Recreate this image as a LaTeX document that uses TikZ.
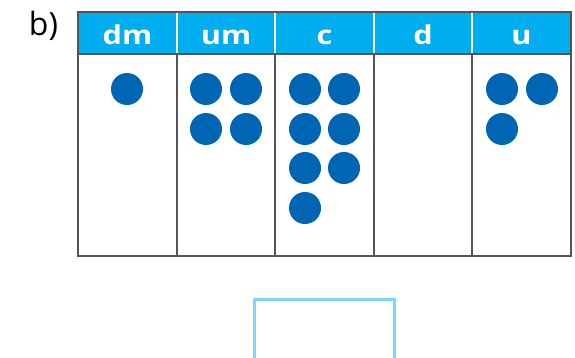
\documentclass[tikz,border=0pt]{standalone}
\usepackage{fontspec}
\setmainfont{Open Sans}
\newfontfamily\headfont[FakeStretch=1.18]{Open Sans}
\usetikzlibrary{positioning}
\definecolor{headcyan}{HTML}{00AEEF}
\definecolor{dotblue}{HTML}{0066B3}
\definecolor{gridgray}{HTML}{555555}
\definecolor{boxblue}{HTML}{7DD6F8}

\begin{document}
\begin{tikzpicture}[x=1pt,y=-1pt,
    headlbl/.style={anchor=base,inner sep=0pt,text=white,
      font=\headfont\fontsize{26}{30}\selectfont\bfseries},
    counter/.style={fill=dotblue}]
  \useasboundingbox (0,0) rectangle (575,357);
  % header band
  \fill[headcyan] (78,12) rectangle (571,54);
  \foreach \x in {177,275,374,472}
    \draw[white,line width=1.2pt] (\x,12) -- (\x,54);
  \foreach \x in {177,275,374,472}
    \draw[gridgray,line width=1.3pt] (\x,54) -- (\x,256);
  \draw[gridgray,line width=1.2pt] (78,54) -- (571,54);
  \draw[gridgray,line width=1.5pt] (78,12) rectangle (571,256);
  \node[anchor=base,inner sep=0pt] (tag) at (43.5,35)
    {\fontsize{32}{36}\selectfont b)};
  \node[headlbl] (hdm) at (127.5,44) {dm};
  \node[headlbl] (hum) at (226,44) {um};
  \node[headlbl] (hc) at (324.5,44) {c};
  \node[headlbl] (hd) at (423,44) {d};
  \node[headlbl] (hu) at (521.5,44) {u};
  % counters
  \foreach \p in {(127,89),
      (206,89),(246,89),(206,129),(246,129),
      (305,89),(344,89),(305,129),(344,129),(305,168),(344,168),(305,208),
      (502,89),(542,89),(502,129)}
    \fill[counter] \p circle (16);
  % answer box
  \draw[boxblue,line width=3.2pt] (254.5,365) |- (394.5,299.5) -- (394.5,365);
\end{tikzpicture}
\end{document}
